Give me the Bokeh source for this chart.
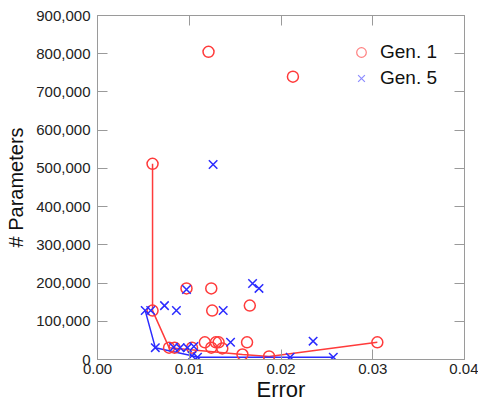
from bokeh.plotting import figure
from bokeh.models import LinearAxis, NumeralTickFormatter, Legend, LegendItem, FixedTicker, Range1d
from bokeh.embed import file_html
from bokeh.resources import INLINE

# Gen. 1 (red circles)
gen1_err = [0.0121, 0.0213, 0.0060, 0.0060, 0.0097, 0.0124, 0.0125, 0.0166,
            0.0078, 0.0084, 0.0103, 0.0117, 0.0124, 0.0129, 0.0132, 0.0136,
            0.0163, 0.0158, 0.0187, 0.0305]
gen1_par = [805000, 740000, 512000, 128000, 186000, 186000, 128000, 141000,
            31000, 31000, 31000, 45000, 31000, 45000, 45000, 29000,
            45000, 13000, 8000, 45000]
gen1_front = [2, 3, 8, 17, 18, 19]

# Gen. 5 (blue crosses)
gen5_err = [0.0126, 0.0097, 0.0052, 0.0058, 0.0073, 0.0086, 0.0137, 0.0169,
            0.0176, 0.0063, 0.0083, 0.0090, 0.0098, 0.0105, 0.0103, 0.0109,
            0.0145, 0.0235, 0.0210, 0.0257]
gen5_par = [510000, 183000, 128000, 128000, 141000, 128000, 128000, 199000,
            186000, 31000, 32000, 31000, 31000, 34000, 10000, 6000,
            45000, 48000, 6000, 6000]
gen5_front = [2, 9, 14, 15, 18, 19]

x_ticks = [0.0, 0.01, 0.02, 0.03, 0.04]
y_ticks = [0, 100000, 200000, 300000, 400000, 500000, 600000, 700000, 800000, 900000]

RED = "#ff3b3b"
BLUE = "#2b2bff"
GRAY = "#9a9a9a"
FONT = "Liberation Sans"

p = figure(frame_width=367, frame_height=344, output_backend="svg", toolbar_location=None,
           x_range=Range1d(0, 0.04), y_range=Range1d(0, 900000),
           min_border_left=97, min_border_right=14, min_border_top=15, min_border_bottom=45)
p.grid.visible = False
p.outline_line_color = GRAY
p.background_fill_color = "white"
p.border_fill_color = "white"

p.xaxis.ticker = FixedTicker(ticks=x_ticks)
p.yaxis.ticker = FixedTicker(ticks=y_ticks)
p.xaxis.formatter = NumeralTickFormatter(format="0.00")
p.yaxis.formatter = NumeralTickFormatter(format="0,0")
p.xaxis.axis_label = "Error"
p.yaxis.axis_label = "# Parameters"

for ax in [p.xaxis[0], p.yaxis[0]]:
    ax.axis_line_color = GRAY
    ax.major_tick_line_color = GRAY
    ax.major_tick_in = 10
    ax.major_tick_out = 0
    ax.minor_tick_line_color = None
    ax.major_label_text_font = FONT
    ax.major_label_text_font_size = "15px"
    ax.major_label_text_color = "#222222"
    ax.axis_label_text_font = FONT
    ax.axis_label_text_font_style = "normal"
    ax.axis_label_text_color = "#111111"
p.xaxis.axis_label_text_font_size = "22px"
p.yaxis.axis_label_text_font_size = "20px"
p.xaxis.major_label_standoff = 4
p.xaxis.axis_label_standoff = 0
p.yaxis.major_label_standoff = 7
p.yaxis.axis_label_standoff = 6

top = LinearAxis(ticker=FixedTicker(ticks=x_ticks))
right = LinearAxis(ticker=FixedTicker(ticks=y_ticks))
for ax, ticks in [(top, x_ticks), (right, y_ticks)]:
    ax.axis_line_color = GRAY
    ax.major_tick_line_color = GRAY
    ax.major_tick_in = 10
    ax.major_tick_out = 0
    ax.minor_tick_line_color = None
    ax.major_label_overrides = {t: "" for t in ticks}
    ax.major_label_standoff = 0
p.add_layout(top, "above")
p.add_layout(right, "right")

# Front lines
p.line([gen1_err[i] for i in gen1_front], [gen1_par[i] for i in gen1_front],
       line_color=RED, line_width=1.5)
p.line([gen5_err[i] for i in gen5_front], [gen5_par[i] for i in gen5_front],
       line_color=BLUE, line_width=1.5)

p.scatter(gen1_err, gen1_par, marker="circle", size=11, fill_color=None,
          line_color=RED, line_width=1.5)
p.scatter(gen5_err, gen5_par, marker="x", size=12, line_color=BLUE, line_width=1.5)

# legend proxies (lighter, as in the reference), not drawn in the plot area
nan = float("nan")
l1 = p.scatter([nan], [nan], marker="circle", size=10, fill_color=None, line_color="#ff8080", line_width=1.2)
l5 = p.scatter([nan], [nan], marker="x", size=11, line_color="#8c8cff", line_width=1.2)
legend = Legend(items=[LegendItem(label="Gen. 1", renderers=[l1]),
                       LegendItem(label="Gen. 5", renderers=[l5])])
legend.border_line_color = None
legend.background_fill_alpha = 0
legend.label_text_font = FONT
legend.label_text_font_size = "19px"
legend.label_text_color = "#111111"
legend.glyph_width = 24
legend.glyph_height = 24
legend.label_standoff = 7
legend.spacing = 2
legend.margin = 0
legend.padding = 0
legend.location = (252, 269)
p.add_layout(legend, "center")

open("out.html", "w").write(file_html(p, INLINE))
